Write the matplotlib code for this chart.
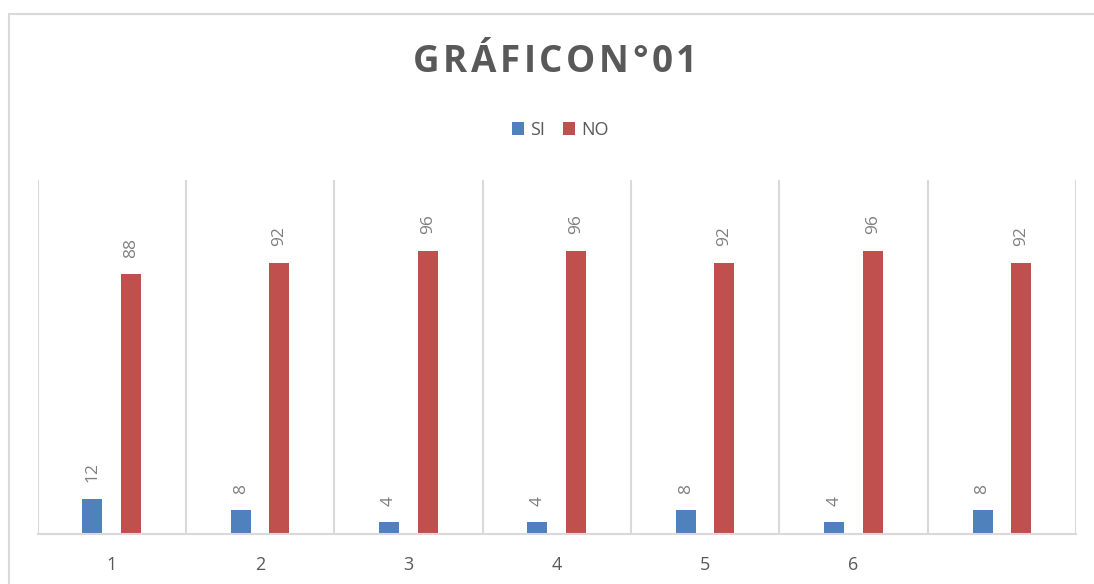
import numpy as np
import matplotlib
matplotlib.use('Agg')
import matplotlib.pyplot as plt
from matplotlib.patches import Rectangle

# datos del grafico
categorias = ['1', '2', '3', '4', '5', '6', '']
si = [12, 8, 4, 4, 8, 4, 8]
no = [88, 92, 96, 96, 92, 96, 92]
titulo = 'GRÁFICON°01'

azul = '#4f81bd'
rojo = '#c0504d'
gris = '#595959'
rejilla = '#d9d9d9'

plt.rcParams['font.family'] = ['Open Sans', 'DejaVu Sans']

fig = plt.figure(figsize=(10.94, 5.84), dpi=100, facecolor='w')
W, H = 1094, 584
ax = fig.add_axes([37.5 / W, 1 - 534 / H, (1076 - 37.5) / W, (534 - 180) / H])

# marco exterior del grafico
fig.patches.append(Rectangle((8.5 / W, -0.1), 1.2, 1 - 14.5 / H + 0.1,
                             transform=fig.transFigure, fill=False,
                             edgecolor=rejilla, linewidth=1.5))

x = np.arange(len(categorias))
w = 0.135
b1 = ax.bar(x - 0.13, si, w, color=azul, label='SI')
b2 = ax.bar(x + 0.13, no, w, color=rojo, label='NO')

for barras in (b1, b2):
    for r in barras:
        ax.annotate(str(int(r.get_height())),
                    (r.get_x() + r.get_width() / 2, r.get_height()),
                    xytext=(0, 12), textcoords='offset points',
                    rotation=90, ha='center', va='bottom',
                    fontsize=12.5, color='#7f7f7f')

ax.set_xlim(-0.5, len(categorias) - 0.5)
ax.set_ylim(0, 120)
ax.set_xticks(x)
ax.set_xticklabels(categorias, fontsize=13, color=gris)
ax.tick_params(axis='x', length=0, pad=16)
ax.set_yticks([])

# lineas verticales entre categorias
for b in np.arange(-0.5, len(categorias), 1):
    ax.axvline(b, color=rejilla, linewidth=1.5, zorder=0)

for s in ['top', 'left', 'right']:
    ax.spines[s].set_visible(False)
ax.spines['bottom'].set_color(rejilla)
ax.spines['bottom'].set_linewidth(1.5)

# titulo con espaciado entre letras
renderer = fig.canvas.get_renderer()
espacio = 3.6
letras = []
anchos = []
for c in titulo:
    t = fig.text(0, 0, c, fontsize=26.5, fontweight='bold', color=gris,
                 ha='left', va='center')
    letras.append(t)
    anchos.append(t.get_window_extent(renderer).width)
total = sum(anchos) + espacio * (len(titulo) - 1)
xpos = 555 - total / 2
for t, a in zip(letras, anchos):
    t.set_position((xpos / W, 1 - 62 / H))
    xpos += a + espacio

fig.legend(handles=[b1, b2], labels=['SI', 'NO'], loc='center',
           bbox_to_anchor=(560 / W, 1 - 130 / H), ncol=2, frameon=False,
           fontsize=13, handlelength=0.7, handleheight=0.7, handletextpad=0.3,
           columnspacing=1.0, labelcolor=gris)

fig.savefig('out.png', dpi=100, facecolor='w')
